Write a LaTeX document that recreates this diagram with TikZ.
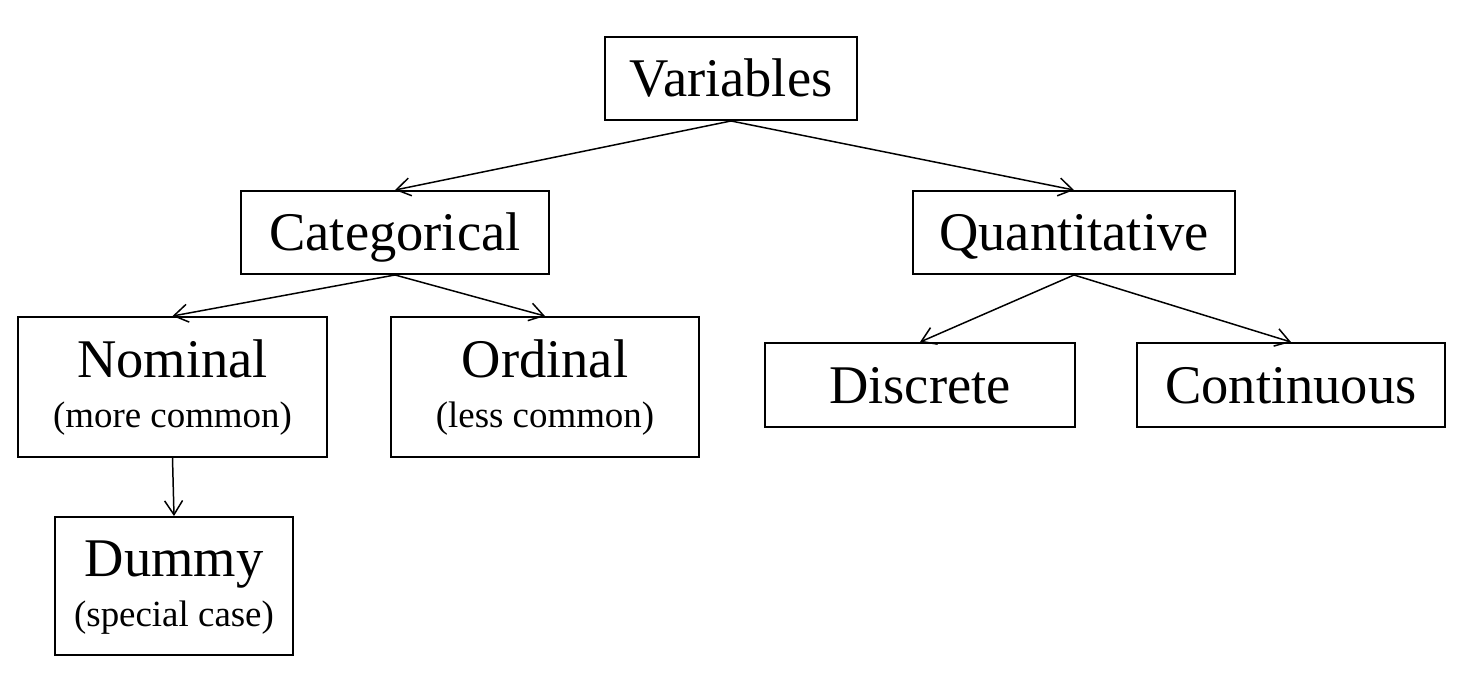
\documentclass[tikz,border=0pt]{standalone}
\usepackage{fontspec}
\setmainfont{Liberation Serif}
\usetikzlibrary{arrows.meta}

\tikzset{
	box/.style={draw, line width=1.1pt, inner sep=0pt, minimum height=1.66cm,
		font=\fontsize{31}{28.3}\selectfont, text height=21pt, text depth=0pt},
	twobox/.style={box, align=center, minimum height=2.8cm, text height=49.5pt, text depth=3.5pt},
	arr/.style={-{Straight Barb[length=2.8mm,width=3.6mm]}, line width=0.85pt},
}
\newcommand{\subtxt}[1]{{\fontsize{21}{28.3}\selectfont #1}}

\begin{document}
\begin{tikzpicture}
	\useasboundingbox (0,0) rectangle (29.56,-13.68);
	\node[box, minimum width=5.04cm] (var) at (14.62,-1.57) {Variables};
	\node[box, minimum width=6.16cm] (cat) at (7.90,-4.65) {Categorical};
	\node[box, minimum width=6.44cm] (quant) at (21.48,-4.65) {Quantitative};
	\node[twobox, minimum width=6.18cm] (nom) at (3.45,-7.74) {Nominal\\\subtxt{(more common)}};
	\node[twobox, minimum width=6.16cm] (ord) at (10.90,-7.74) {Ordinal\\\subtxt{(less common)}};
	\node[box, minimum width=6.20cm, minimum height=1.68cm] (disc) at (18.40,-7.70) {Discrete};
	\node[box, minimum width=6.16cm, minimum height=1.68cm] (cont) at (25.82,-7.70) {Continuous};
	\node[twobox, minimum width=4.76cm, minimum height=2.76cm] (dum) at (3.48,-11.72) {Dummy\\\subtxt{(special case)}};
	\draw[arr] (var.south) -- (cat.north);
	\draw[arr] (var.south) -- (quant.north);
	\draw[arr] (cat.south) -- (nom.north);
	\draw[arr] (cat.south) -- (ord.north);
	\draw[arr] (quant.south) -- (disc.north);
	\draw[arr] (quant.south) -- (cont.north);
	\draw[arr] (nom.south) -- (dum.north);
\end{tikzpicture}
\end{document}
